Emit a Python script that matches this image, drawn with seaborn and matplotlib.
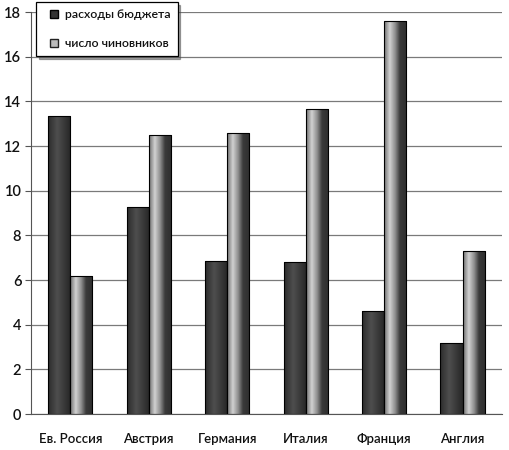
import numpy as np
import pandas as pd
import matplotlib
matplotlib.use("Agg")
import matplotlib.pyplot as plt
from matplotlib.colors import LinearSegmentedColormap
from matplotlib.lines import Line2D
import seaborn as sns

countries = ["Ев. Россия", "Австрия", "Германия", "Италия", "Франция", "Англия"]
budget = [13.35, 9.25, 6.85, 6.8, 4.6, 3.2]
officials = [6.2, 12.5, 12.6, 13.65, 17.6, 7.3]
series_names = ["расходы бюджета", "число чиновников"]

df = pd.DataFrame({
    "country": countries * 2,
    "series": [series_names[0]] * len(countries) + [series_names[1]] * len(countries),
    "value": budget + officials,
})

sns.set_style("white")
plt.rcParams["font.family"] = ["Lato", "DejaVu Sans"]
plt.rcParams["font.weight"] = "semibold"
plt.rcParams["text.color"] = "#111111"

fig = plt.figure(figsize=(5.09, 4.50), dpi=100)
ax = fig.add_axes([0.061, 0.08, 0.925, 0.893])

sns.barplot(data=df, x="country", y="value", hue="series",
            palette=["#333333", "#999999"], width=0.565,
            edgecolor="black", linewidth=0.8, ax=ax, legend=False)

# cylinder-like shading, Excel style
cm_dark = LinearSegmentedColormap.from_list(
    "dark", [(0, "#2c2c2c"), (0.4, "#4e4e4e"), (1, "#262626")])
cm_light = LinearSegmentedColormap.from_list(
    "light", [(0, "#707070"), (0.25, "#d2d2d2"), (0.5, "#8a8a8a"),
              (0.7, "#3a3a3a"), (1, "#2e2e2e")])
grad = np.linspace(0, 1, 64).reshape(1, -1)
n = len(countries)
for i, p in enumerate(ax.patches[:2 * n]):
    x0, y0 = p.get_x(), p.get_y()
    w, h = p.get_width(), p.get_height()
    cmap = cm_dark if i < n else cm_light
    im = ax.imshow(grad, cmap=cmap, aspect="auto",
                   extent=(x0, x0 + w, y0, y0 + h), zorder=2)
    im.set_clip_path(p)
    p.set_facecolor("none")
    p.set_zorder(3)

ax.set_xlim(-0.5, n - 0.5)
ax.set_ylim(0, 18)
ax.set_yticks(range(0, 19, 2))
ax.yaxis.grid(True, color="#7a7a7a", linewidth=0.9)
ax.set_axisbelow(True)
ax.set_xlabel("")
ax.set_ylabel("")

for s in ["top", "right"]:
    ax.spines[s].set_visible(False)
ax.spines["left"].set_color("#555555")
ax.spines["bottom"].set_color("#555555")

ax.set_xticks(np.arange(-0.5, n, 1), minor=True)
ax.tick_params(axis="x", which="major", length=0, labelsize=9.5, pad=14,
               labelcolor="#111111")
ax.tick_params(axis="x", which="minor", length=4, color="#555555", direction="out")
ax.tick_params(axis="y", length=4, color="#555555", labelsize=10.5, pad=3,
               labelcolor="#111111", left=True)

handles = [
    Line2D([], [], marker="s", linestyle="none", markersize=6,
           markerfacecolor="#333333", markeredgecolor="black"),
    Line2D([], [], marker="s", linestyle="none", markersize=6,
           markerfacecolor="#bbbbbb", markeredgecolor="#222222"),
]
leg = ax.legend(handles, series_names, loc="upper left",
                bbox_to_anchor=(36 / 509, 1 - 2 / 450), bbox_transform=fig.transFigure,
                frameon=True, fancybox=False, shadow=True, edgecolor="black",
                fontsize=8.8, labelspacing=1.45, handletextpad=0.05,
                handlelength=1.7, borderpad=0.6, borderaxespad=0)
leg.get_frame().set_linewidth(0.9)
leg.set_zorder(10)

fig.savefig("out.png", dpi=100)
